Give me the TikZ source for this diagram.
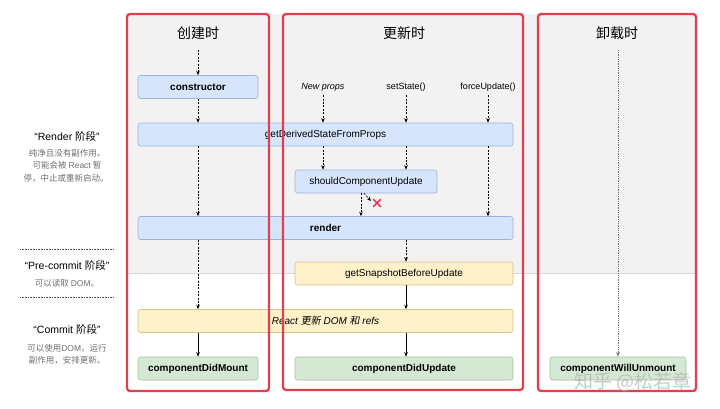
\documentclass[tikz,border=0pt]{standalone}
\usepackage{fontspec}
\setmainfont{Liberation Sans}
\newfontfamily\cjk{Noto Sans CJK SC}
\newfontfamily\cjkit[FakeSlant=0.18]{Noto Sans CJK SC}
\usetikzlibrary{arrows.meta}
\definecolor{bgc}{HTML}{F2F2F2}
\definecolor{sepc}{HTML}{D6D6D6}
\definecolor{bfill}{HTML}{D7E5FC}
\definecolor{bdraw}{HTML}{9CB3DA}
\definecolor{yfill}{HTML}{FFF1C9}
\definecolor{ydraw}{HTML}{D8C48A}
\definecolor{gfill}{HTML}{D5E8D4}
\definecolor{gdraw}{HTML}{A2C29E}
\definecolor{redc}{HTML}{E0404E}
\definecolor{descc}{HTML}{6E6E6E}
\tikzset{
  box/.style={draw, rounded corners=2.5pt, line width=0.6pt, minimum height=23pt, inner sep=0pt, font=\fontsize{10}{12}\selectfont},
  bluebox/.style={box, fill=bfill, draw=bdraw},
  yellowbox/.style={box, fill=yfill, draw=ydraw},
  greenbox/.style={box, fill=gfill, draw=gdraw},
  coltitle/.style={font=\cjk\fontsize{14}{16}\selectfont},
  trig/.style={font=\fontsize{9}{11}\selectfont, inner sep=0pt},
  dar/.style={draw=black, line width=0.6pt, dash pattern=on 2pt off 1.4pt, -{Stealth[length=4.5pt,width=3.6pt]}},
  sar/.style={draw=black, line width=0.6pt, -{Stealth[length=4.5pt,width=3.6pt]}},
  gar/.style={draw=black!55, line width=0.9pt, dash pattern=on 1pt off 0.8pt, -{Stealth[length=4.5pt,width=3.6pt]}},
  phase/.style={font=\fontsize{10.5}{12}\selectfont, inner sep=0pt},
  desc/.style={font=\cjk\fontsize{8.5}{10}\selectfont, text=descc, inner sep=0pt},
  dotline/.style={draw=black!70, line width=0.7pt, dash pattern=on 0.8pt off 0.8pt},
  redline/.style={draw=redc, line width=2.3pt, rounded corners=3pt},
  wmark/.style={font=\cjk\fontsize{19}{21}\selectfont, text=black!30, opacity=0.7, inner sep=0pt}
}
\begin{document}
\begin{tikzpicture}[x=1pt,y=-1pt]
\useasboundingbox (0,0) rectangle (720,408);
% background of render phase
\fill[bgc] (127,14) rectangle (697,273);
\draw[sepc, line width=0.9pt] (127,273) -- (697,273);

% column titles
\node[coltitle] (t1) at (198,33) {创建时};
\node[coltitle] (t2) at (404,33) {更新时};
\node[coltitle] (t3) at (617,33) {卸载时};

% triggers
\node[trig, font=\itshape\fontsize{9}{11}\selectfont] (np) at (323,87) {New props};
\node[trig] (ss) at (406,87) {setState()};
\node[trig] (fu) at (488,87) {forceUpdate()};

% boxes
\node[bluebox, minimum width=120pt, font=\bfseries\fontsize{10}{12}\selectfont] (ctor) at (198,87) {constructor};
\node[bluebox, minimum width=375pt] (gdsfp) at (325.5,134.5) {getDerivedStateFromProps};
\node[bluebox, minimum width=142pt] (scu) at (366,181.5) {shouldComponentUpdate};
\node[bluebox, minimum width=375pt, font=\bfseries\fontsize{10}{12}\selectfont] (render) at (325.5,228) {render};
\node[yellowbox, minimum width=218pt] (gsbu) at (404,273.5) {getSnapshotBeforeUpdate};
\node[yellowbox, minimum width=375pt, font=\itshape\fontsize{10}{12}\selectfont] (commit) at (325.5,321) {React {\cjkit 更新} DOM {\cjkit 和} refs};
\node[greenbox, minimum width=120pt, font=\bfseries\fontsize{10}{12}\selectfont] (cdm) at (198,368.5) {componentDidMount};
\node[greenbox, minimum width=218pt, font=\bfseries\fontsize{10}{12}\selectfont] (cdu) at (404,368.5) {componentDidUpdate};
\node[greenbox, minimum width=136pt, font=\bfseries\fontsize{10}{12}\selectfont] (cwu) at (618,368.5) {componentWillUnmount};

% start points
\coordinate (s1) at (198,50);
\coordinate (s3) at (618,50);
\coordinate (xa) at (361,0);
\coordinate (xb) at (364,0);
\coordinate (xend) at (371,201);
\coordinate (xm) at (377,203);

% connectors: mounting
\draw[dar] (s1) -- (ctor.north);
\draw[dar] (ctor.south) -- (ctor.south |- gdsfp.north);
\draw[dar] (ctor |- gdsfp.south) -- (ctor |- render.north);
\draw[dar] (ctor |- render.south) -- (ctor |- commit.north);
\draw[sar] (ctor |- commit.south) -- (cdm.north);

% connectors: updating
\draw[dar] ([yshift=-4pt]np.south) -- (np |- gdsfp.north);
\draw[dar] ([yshift=-4pt]ss.south) -- (ss |- gdsfp.north);
\draw[dar] ([yshift=-4pt]fu.south) -- (fu |- gdsfp.north);
\draw[dar] (np |- gdsfp.south) -- (np |- scu.north);
\draw[dar] (ss |- gdsfp.south) -- (ss |- scu.north);
\draw[dar] (fu |- gdsfp.south) -- (fu |- render.north);
\draw[dar] (xa |- scu.south) -- (xa |- render.north);
\draw[dar] (xb |- scu.south) -- (xend);
\draw[redc, line width=1.7pt] ([xshift=-3.8pt,yshift=3.8pt]xm) -- ([xshift=3.8pt,yshift=-3.8pt]xm)
                             ([xshift=-3.8pt,yshift=-3.8pt]xm) -- ([xshift=3.8pt,yshift=3.8pt]xm);
\draw[dar] (ss |- render.south) -- (ss |- gsbu.north);
\draw[sar] (ss |- gsbu.south) -- (ss |- commit.north);
\draw[sar] (ss |- commit.south) -- (ss |- cdu.north);

% unmounting
\draw[gar] (s3) -- (cwu.north);

% left phase labels
\node[phase] (pr) at (67,136) {“Render {\cjk 阶段}”};
\node[desc] (pr1) at (67,153) {纯净且没有副作用。};
\node[desc] (pr2) at (67,165.5) {可能会被 {\fontspec{Liberation Sans}React} 暂};
\node[desc] (pr3) at (66,178) {停，中止或重新启动。};
\coordinate (la) at (20,249);
\coordinate (lb) at (113,249);
\coordinate (lc) at (20,297);
\coordinate (ld) at (113,297);
\draw[dotline] (la) -- (lb);
\draw[dotline] (lc) -- (ld);
\node[phase] (pp) at (67,265) {“Pre-commit {\cjk 阶段}”};
\node[desc] (pp1) at (67,283) {可以读取 {\fontspec{Liberation Sans}DOM}。};
\node[phase] (pc) at (67,329) {“Commit {\cjk 阶段}”};
\node[desc] (pc1) at (67,348) {可以使用{\fontspec{Liberation Sans}DOM}，运行};
\node[desc] (pc2) at (67,360) {副作用，安排更新。};

% red hand-drawn frames
\draw[redline] (127,14) rectangle (269,391);
\draw[redline] (283,14) rectangle (523,390);
\draw[redline] (538,14) rectangle (696,391);

% watermark
\node[wmark] (wm) at (633,382) {知乎 @松若章};
\end{tikzpicture}
\end{document}
